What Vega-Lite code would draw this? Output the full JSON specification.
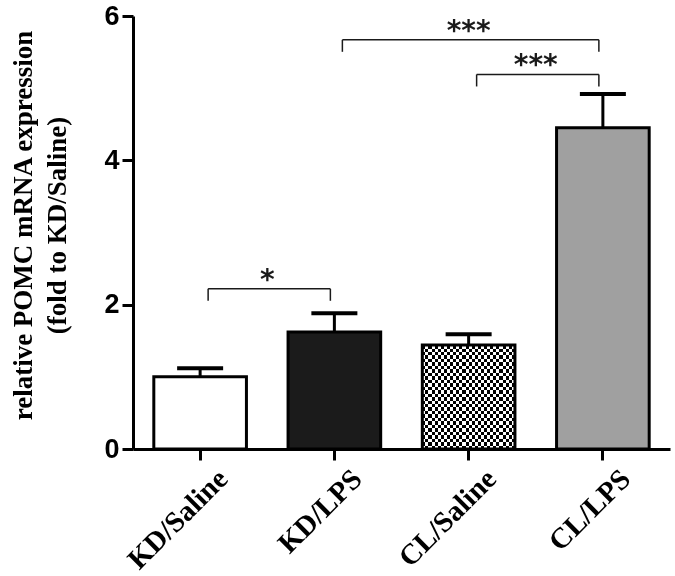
{
  "$schema": "https://vega.github.io/schema/vega-lite/v6.json",
  "width": 537,
  "height": 433,
  "autosize": {"type": "none"},
  "padding": {"left": 133, "top": 16, "right": 5, "bottom": 127},
  "background": "white",
  "config": {
    "view": {"stroke": null},
    "axis": {"grid": false},
    "axisY": {
      "tickCount": 3, "domainWidth": 3, "domainColor": "black",
      "tickWidth": 3, "tickColor": "black", "tickSize": 11,
      "labelFont": "Liberation Sans", "labelFontWeight": "bold", "labelFontSize": 27,
      "labelColor": "black", "labelPadding": 3,
      "titleFont": "Liberation Serif", "titleFontWeight": "bold", "titleFontSize": 27,
      "titleColor": "black", "titleLineHeight": 34, "titleAngle": -90,
      "titleX": -102, "titleY": 209, "titleAlign": "center", "titleBaseline": "alphabetic"
    }
  },
  "resolve": {"scale": {"x": "independent"}, "axis": {"x": "independent"}},
  "layer": [
    {
      "data": {"values": [
        {"group": "KD/Saline", "mean": 1.0, "upper": 1.12},
        {"group": "KD/LPS", "mean": 1.62, "upper": 1.88},
        {"group": "CL/Saline", "mean": 1.44, "upper": 1.59},
        {"group": "CL/LPS", "mean": 4.45, "upper": 4.92}
      ]},
      "encoding": {
        "x": {
          "field": "group", "type": "nominal",
          "sort": ["KD/Saline", "KD/LPS", "CL/Saline", "CL/LPS"],
          "scale": {"paddingInner": 0.31, "paddingOuter": 0.155},
          "axis": {
            "title": null, "domainWidth": 3, "domainColor": "black",
            "tickWidth": 3, "tickColor": "black", "tickSize": 11,
            "labelAngle": -45, "labelFont": "Liberation Serif", "labelFontWeight": "bold",
            "labelFontSize": 29, "labelColor": "black", "labelAlign": "right",
            "labelBaseline": "top", "labelOffset": 13, "labelPadding": 4
          }
        },
        "y": {
          "field": "mean", "type": "quantitative",
          "title": ["relative POMC mRNA expression", "(fold to KD/Saline)"],
          "scale": {"domain": [0, 6], "nice": false}
        }
      },
      "layer": [
        {
          "mark": {"type": "bar", "strokeWidth": 0},
          "encoding": {
            "fill": {
              "field": "group", "type": "nominal",
              "scale": {"domain": ["KD/Saline", "KD/LPS", "CL/Saline", "CL/LPS"], "range": ["#ffffff", "#1b1b1b", "#ffffff", "#a0a0a0"]},
              "legend": null
            }
          }
        },
        {
          "transform": [{"filter": "datum.group === 'CL/Saline'"}],
          "mark": {"type": "bar", "strokeWidth": 0, "fill": {"gradient": "linear", "x1": 0, "y1": 0, "x2": 1, "y2": 0, "stops": [
            {"offset":0,"color":"#000"},{"offset":0.0333,"color":"#000"},
            {"offset":0.0333,"color":"#fff"},{"offset":0.0667,"color":"#fff"},
            {"offset":0.0667,"color":"#000"},{"offset":0.1,"color":"#000"},
            {"offset":0.1,"color":"#fff"},{"offset":0.1333,"color":"#fff"},
            {"offset":0.1333,"color":"#000"},{"offset":0.1667,"color":"#000"},
            {"offset":0.1667,"color":"#fff"},{"offset":0.2,"color":"#fff"},
            {"offset":0.2,"color":"#000"},{"offset":0.2333,"color":"#000"},
            {"offset":0.2333,"color":"#fff"},{"offset":0.2667,"color":"#fff"},
            {"offset":0.2667,"color":"#000"},{"offset":0.3,"color":"#000"},
            {"offset":0.3,"color":"#fff"},{"offset":0.3333,"color":"#fff"},
            {"offset":0.3333,"color":"#000"},{"offset":0.3667,"color":"#000"},
            {"offset":0.3667,"color":"#fff"},{"offset":0.4,"color":"#fff"},
            {"offset":0.4,"color":"#000"},{"offset":0.4333,"color":"#000"},
            {"offset":0.4333,"color":"#fff"},{"offset":0.4667,"color":"#fff"},
            {"offset":0.4667,"color":"#000"},{"offset":0.5,"color":"#000"},
            {"offset":0.5,"color":"#fff"},{"offset":0.5333,"color":"#fff"},
            {"offset":0.5333,"color":"#000"},{"offset":0.5667,"color":"#000"},
            {"offset":0.5667,"color":"#fff"},{"offset":0.6,"color":"#fff"},
            {"offset":0.6,"color":"#000"},{"offset":0.6333,"color":"#000"},
            {"offset":0.6333,"color":"#fff"},{"offset":0.6667,"color":"#fff"},
            {"offset":0.6667,"color":"#000"},{"offset":0.7,"color":"#000"},
            {"offset":0.7,"color":"#fff"},{"offset":0.7333,"color":"#fff"},
            {"offset":0.7333,"color":"#000"},{"offset":0.7667,"color":"#000"},
            {"offset":0.7667,"color":"#fff"},{"offset":0.8,"color":"#fff"},
            {"offset":0.8,"color":"#000"},{"offset":0.8333,"color":"#000"},
            {"offset":0.8333,"color":"#fff"},{"offset":0.8667,"color":"#fff"},
            {"offset":0.8667,"color":"#000"},{"offset":0.9,"color":"#000"},
            {"offset":0.9,"color":"#fff"},{"offset":0.9333,"color":"#fff"},
            {"offset":0.9333,"color":"#000"},{"offset":0.9667,"color":"#000"},
            {"offset":0.9667,"color":"#fff"},{"offset":1,"color":"#fff"}
          ]}}
        },
        {
          "transform": [{"filter": "datum.group === 'CL/Saline'"}],
          "mark": {"type": "bar", "strokeWidth": 0, "blend": "difference", "fill": {"gradient": "linear", "x1": 0, "y1": 0, "x2": 0, "y2": 1, "stops": [
            {"offset":0,"color":"#000"},{"offset":0.0333,"color":"#000"},
            {"offset":0.0333,"color":"#fff"},{"offset":0.0667,"color":"#fff"},
            {"offset":0.0667,"color":"#000"},{"offset":0.1,"color":"#000"},
            {"offset":0.1,"color":"#fff"},{"offset":0.1333,"color":"#fff"},
            {"offset":0.1333,"color":"#000"},{"offset":0.1667,"color":"#000"},
            {"offset":0.1667,"color":"#fff"},{"offset":0.2,"color":"#fff"},
            {"offset":0.2,"color":"#000"},{"offset":0.2333,"color":"#000"},
            {"offset":0.2333,"color":"#fff"},{"offset":0.2667,"color":"#fff"},
            {"offset":0.2667,"color":"#000"},{"offset":0.3,"color":"#000"},
            {"offset":0.3,"color":"#fff"},{"offset":0.3333,"color":"#fff"},
            {"offset":0.3333,"color":"#000"},{"offset":0.3667,"color":"#000"},
            {"offset":0.3667,"color":"#fff"},{"offset":0.4,"color":"#fff"},
            {"offset":0.4,"color":"#000"},{"offset":0.4333,"color":"#000"},
            {"offset":0.4333,"color":"#fff"},{"offset":0.4667,"color":"#fff"},
            {"offset":0.4667,"color":"#000"},{"offset":0.5,"color":"#000"},
            {"offset":0.5,"color":"#fff"},{"offset":0.5333,"color":"#fff"},
            {"offset":0.5333,"color":"#000"},{"offset":0.5667,"color":"#000"},
            {"offset":0.5667,"color":"#fff"},{"offset":0.6,"color":"#fff"},
            {"offset":0.6,"color":"#000"},{"offset":0.6333,"color":"#000"},
            {"offset":0.6333,"color":"#fff"},{"offset":0.6667,"color":"#fff"},
            {"offset":0.6667,"color":"#000"},{"offset":0.7,"color":"#000"},
            {"offset":0.7,"color":"#fff"},{"offset":0.7333,"color":"#fff"},
            {"offset":0.7333,"color":"#000"},{"offset":0.7667,"color":"#000"},
            {"offset":0.7667,"color":"#fff"},{"offset":0.8,"color":"#fff"},
            {"offset":0.8,"color":"#000"},{"offset":0.8333,"color":"#000"},
            {"offset":0.8333,"color":"#fff"},{"offset":0.8667,"color":"#fff"},
            {"offset":0.8667,"color":"#000"},{"offset":0.9,"color":"#000"},
            {"offset":0.9,"color":"#fff"},{"offset":0.9333,"color":"#fff"},
            {"offset":0.9333,"color":"#000"},{"offset":0.9667,"color":"#000"},
            {"offset":0.9667,"color":"#fff"},{"offset":1,"color":"#fff"}
          ]}}
        },
        {
          "mark": {"type": "bar", "fill": "transparent", "stroke": "black", "strokeWidth": 3}
        },
        {
          "mark": {"type": "rule", "strokeWidth": 3, "color": "black"},
          "encoding": {"y2": {"field": "upper"}}
        },
        {
          "mark": {"type": "tick", "thickness": 4, "size": 46, "color": "black", "opacity": 1},
          "encoding": {
            "y": {"field": "upper", "type": "quantitative", "title": ["relative POMC mRNA expression", "(fold to KD/Saline)"], "scale": {"domain": [0, 6], "nice": false}}
          }
        }
      ]
    },
    {
      "data": {"values": [
        {"a": 0, "b": 1, "mid": 0.5, "y": 2.22, "label": "*"},
        {"a": 1, "b": 3, "mid": 2, "y": 5.67, "label": "***"},
        {"a": 2, "b": 3, "mid": 2.5, "y": 5.19, "label": "***"}
      ]},
      "encoding": {
        "y": {"field": "y", "type": "quantitative", "title": ["relative POMC mRNA expression", "(fold to KD/Saline)"], "scale": {"domain": [0, 6], "nice": false}}
      },
      "layer": [
        {
          "mark": {"type": "rule", "strokeWidth": 1.5, "color": "#1a1a1a", "xOffset": 8, "x2Offset": -4},
          "encoding": {
            "x": {"field": "a", "type": "quantitative", "scale": {"domain": [-0.5, 3.5], "nice": false, "zero": false}, "axis": null},
            "x2": {"field": "b"}
          }
        },
        {
          "mark": {"type": "rule", "strokeWidth": 1.5, "color": "#1a1a1a", "xOffset": 8, "y2Offset": 12},
          "encoding": {
            "x": {"field": "a", "type": "quantitative", "scale": {"domain": [-0.5, 3.5], "nice": false, "zero": false}, "axis": null},
            "y2": {"field": "y"}
          }
        },
        {
          "mark": {"type": "rule", "strokeWidth": 1.5, "color": "#1a1a1a", "xOffset": -4, "y2Offset": 12},
          "encoding": {
            "x": {"field": "b", "type": "quantitative", "scale": {"domain": [-0.5, 3.5], "nice": false, "zero": false}, "axis": null},
            "y2": {"field": "y"}
          }
        },
        {
          "mark": {"type": "text", "font": "DejaVu Sans", "fontWeight": "bold", "fontSize": 28, "baseline": "alphabetic", "color": "#1a1a1a"},
          "encoding": {
            "x": {"field": "mid", "type": "quantitative", "scale": {"domain": [-0.5, 3.5], "nice": false, "zero": false}, "axis": null},
            "text": {"field": "label"}
          }
        }
      ]
    }
  ]
}
